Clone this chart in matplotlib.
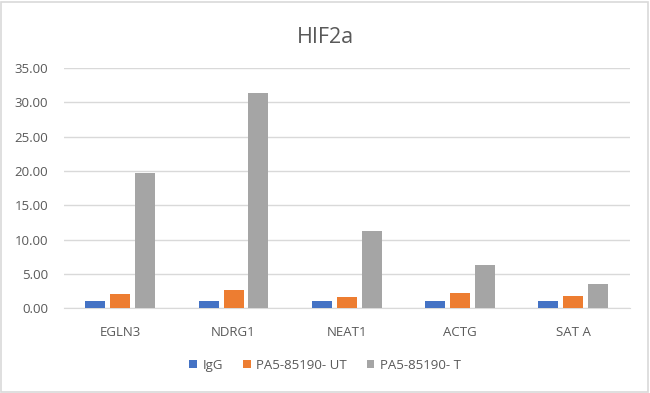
import numpy as np
import matplotlib
matplotlib.use('Agg')
import matplotlib.pyplot as plt
from matplotlib.patches import Rectangle

genes = ['EGLN3', 'NDRG1', 'NEAT1', 'ACTG', 'SAT A']
igg = [1.0, 1.0, 1.0, 1.0, 1.0]
pa_ut = [2.1, 2.7, 1.6, 2.2, 1.7]
pa_t = [19.7, 31.4, 11.2, 6.3, 3.5]
series_names = ['IgG', 'PA5-85190- UT', 'PA5-85190- T']
colors = ['#4472C4', '#ED7D31', '#A5A5A5']
yticks = [0, 5, 10, 15, 20, 25, 30, 35]

plt.rcParams['font.family'] = ['Open Sans', 'DejaVu Sans']

def main():
    fig = plt.figure(figsize=(6.5, 3.93), dpi=100)
    ax = fig.add_axes([0.098, 0.216, 0.871, 0.611])

    x = np.arange(len(genes))
    w = 0.176
    step = 0.22
    for i, (vals, name) in enumerate(zip([igg, pa_ut, pa_t], series_names)):
        ax.bar(x + (i - 1) * step, vals, w, color=colors[i], label=name, zorder=3)

    ax.set_xlim(-0.5, len(genes) - 0.5)
    ax.set_ylim(0, 35)
    ax.set_yticks(yticks)
    ax.set_yticklabels(['%.2f' % v for v in yticks])
    ax.set_xticks(x)
    ax.set_xticklabels(genes)
    ax.tick_params(axis='both', length=0, labelsize=9.5, labelcolor='#595959')
    ax.tick_params(axis='x', pad=13)
    ax.tick_params(axis='y', pad=11)
    ax.yaxis.grid(True, color='#D9D9D9', linewidth=1, zorder=0)
    for s in ['top', 'right', 'left']:
        ax.spines[s].set_visible(False)
    ax.spines['bottom'].set_color('#D9D9D9')

    fig.text(0.5, 0.905, 'HIF2a', ha='center', va='center', fontsize=15.5, color='#595959')

    fig.legend(loc='center', bbox_to_anchor=(0.5, 0.071), ncol=3, frameon=False,
               fontsize=9.5, labelcolor='#595959', handlelength=0.6, handleheight=0.6,
               handletextpad=0.4, columnspacing=1.5)

    fig.patches.append(Rectangle((0.002, 0.003), 0.995, 0.993, transform=fig.transFigure,
                                 fill=False, edgecolor='#D9D9D9', linewidth=1.2))
    fig.savefig('out.png', dpi=100)
    plt.close()

if __name__ == '__main__':
    main()
